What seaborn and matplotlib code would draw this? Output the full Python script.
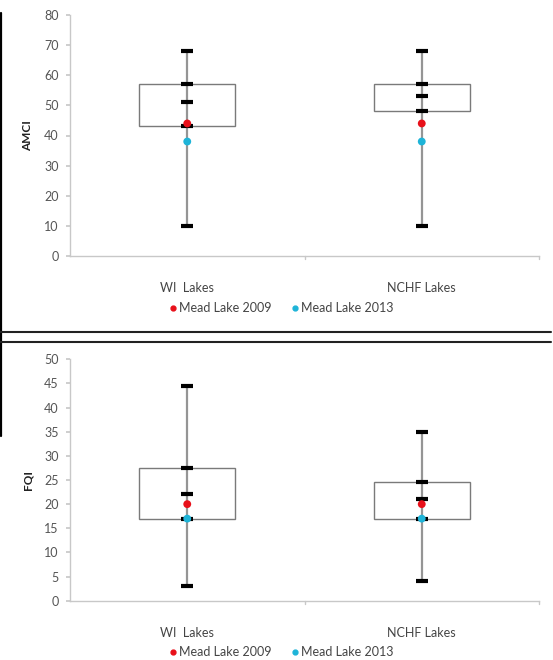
import matplotlib
matplotlib.use("Agg")
import matplotlib.pyplot as plt
import seaborn as sns
import pandas as pd
from matplotlib.lines import Line2D

sns.set_theme(style="white")
plt.rcParams['font.family'] = ['Lato', 'DejaVu Sans']

categories = ["WI  Lakes", "NCHF Lakes"]

# AMCI stats: min, Q1, median, Q3, max
amci_min = [10, 10]
amci_q1 = [43, 48]
amci_med = [51, 53]
amci_q3 = [57, 57]
amci_max = [68, 68]
amci_2009 = [44, 44]
amci_2013 = [38, 38]

# FQI stats
fqi_min = [3, 4]
fqi_q1 = [17, 17]
fqi_med = [22, 21]
fqi_q3 = [27.5, 24.5]
fqi_max = [44.5, 35]
fqi_2009 = [20, 20]
fqi_2013 = [17, 17]

RED = "#e8101a"
CYAN = "#1eb4d8"

W, H = 553, 660
fig = plt.figure(figsize=(W / 100, H / 100), dpi=100)


def px_axes(x0, y0, x1, y1):
    return fig.add_axes([x0 / W, 1 - y1 / H, (x1 - x0) / W, (y1 - y0) / H])


def panel(ax, mins, q1s, meds, q3s, maxs, p09, p13, ymax, ystep, ylabel, legend_y):
    stats = []
    for i, c in enumerate(categories):
        stats.append(dict(med=meds[i], q1=q1s[i], q3=q3s[i], whislo=mins[i],
                          whishi=maxs[i], fliers=[], label=c))
    ax.bxp(stats, positions=[0, 1], widths=0.41, showcaps=False, patch_artist=True,
           boxprops=dict(facecolor="white", edgecolor="#7a7a7a", linewidth=1.0, zorder=1),
           whiskerprops=dict(color="#959595", linewidth=1.6, zorder=2),
           medianprops=dict(color="none", linewidth=0))
    for i in range(2):
        ax.plot([i, i], [q1s[i], q3s[i]], color="#959595", lw=1.6, zorder=2)
    dash = pd.DataFrame({
        "x": [0, 1] * 5,
        "y": list(mins) + list(q1s) + list(meds) + list(q3s) + list(maxs),
    })
    sns.scatterplot(data=dash, x="x", y="y", marker="_", s=65, color="black",
                    linewidth=3.0, ax=ax, zorder=3, legend=False)
    pts = pd.DataFrame({
        "x": [0, 1, 0, 1],
        "y": list(p09) + list(p13),
        "series": ["Mead Lake 2009"] * 2 + ["Mead Lake 2013"] * 2,
    })
    sns.scatterplot(data=pts, x="x", y="y", hue="series",
                    palette={"Mead Lake 2009": RED, "Mead Lake 2013": CYAN},
                    s=32, edgecolor="none", ax=ax, zorder=4, legend=False)
    ax.set_xlim(-0.5, 1.5)
    ax.set_ylim(0, ymax)
    ax.set_yticks(range(0, ymax + 1, ystep))
    ax.set_xticks([0, 1])
    ax.set_xticklabels(categories)
    ax.set_xlabel("")
    ax.set_ylabel(ylabel, fontsize=8.5, fontweight="bold", color="#222222", labelpad=8)
    for s in ["top", "right"]:
        ax.spines[s].set_visible(False)
    for s in ["left", "bottom"]:
        ax.spines[s].set_color("#c8c8c8")
        ax.spines[s].set_linewidth(1.0)
    ax.tick_params(axis="y", labelsize=9, labelcolor="#555555", left=True, length=3,
                   color="#c8c8c8", pad=5)
    ax.tick_params(axis="x", labelsize=9, labelcolor="#444444", bottom=False, pad=13)
    for xb in [0.5, 1.5]:
        ax.plot([xb, xb], [0, -0.012 * ymax], color="#c8c8c8", lw=1.0, clip_on=False)
    handles = [Line2D([], [], marker="o", linestyle="none", color=RED, markersize=3.5),
               Line2D([], [], marker="o", linestyle="none", color=CYAN, markersize=3.5)]
    fig.legend(handles, ["Mead Lake 2009", "Mead Lake 2013"], loc="center",
               bbox_to_anchor=(280 / W, 1 - legend_y / H), ncol=2, frameon=False,
               fontsize=9, handletextpad=0.0, columnspacing=1.4, handlelength=1.0,
               labelcolor="#444444")


ax1 = px_axes(70, 15, 539, 256)
panel(ax1, amci_min, amci_q1, amci_med, amci_q3, amci_max, amci_2009, amci_2013,
      80, 10, "AMCI", 308)

ax2 = px_axes(70, 359.3, 539, 600.7)
panel(ax2, fqi_min, fqi_q1, fqi_med, fqi_q3, fqi_max, fqi_2009, fqi_2013,
      50, 5, "FQI", 652)

# screenshot frame lines
fig.add_artist(Line2D([1 / W, 1 / W], [1 - 13 / H, 1 - 436 / H], color="black", lw=1.6,
                      transform=fig.transFigure))
for yy in [332, 341.5]:
    fig.add_artist(Line2D([0, 551 / W], [1 - yy / H, 1 - yy / H], color="#222222", lw=1.5,
                          transform=fig.transFigure))

fig.savefig("out.png", dpi=100, facecolor="white")
